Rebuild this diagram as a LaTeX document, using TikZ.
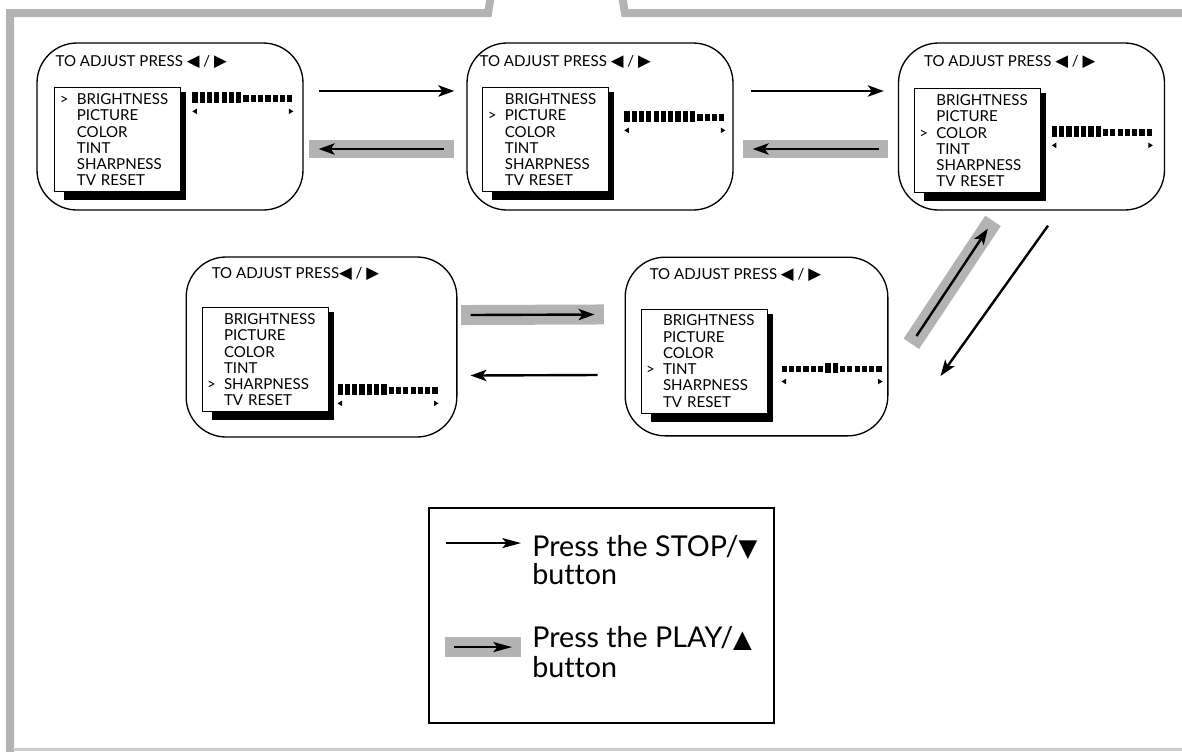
\documentclass[tikz,border=0pt]{standalone}
\usepackage{fontspec}
\setmainfont{Lato}[Ligatures={NoCommon}]
\newfontfamily\symf{DejaVu Sans}
\usetikzlibrary{positioning,arrows.meta,calc,backgrounds}
\definecolor{bandgray}{HTML}{B3B3B3}
\definecolor{rulegray}{HTML}{CCCCCC}
% arrow keys and menu pointer
\newcommand{\lr}{{\symf\scalebox{1.1}{◀}}\ /\ {\symf\scalebox{1.1}{▶}}}
\newcommand{\mk}[2]{\ifnum#1=#2 \makebox[12.75pt][l]{>}\else\makebox[12.75pt][l]{}\fi}
\newcommand{\menurows}[1]{\mk{#1}{1}BRIGHTNESS\\ \mk{#1}{2}PICTURE\\ \mk{#1}{3}COLOR\\ \mk{#1}{4}TINT\\ \mk{#1}{5}SHARPNESS\\ \mk{#1}{6}TV RESET}
% level bar: #1 top left coordinate, #2 list of 1 (tall) / 0 (short)
\newcommand{\lvl}[2]{%
  \foreach \h [count=\i from 0] in {#2}
    \fill ($(#1)+({\i*7.3},{3-3*\h})$) rectangle ++(5.2,{6.5+3.8*\h});
  \fill ($(#1)+(0,19)$) -- ++(4.5,-2.8) -- ++(0,5.6) -- cycle;
  \fill ($(#1)+(101,19)$) -- ++(-4.5,-2.8) -- ++(0,5.6) -- cycle;}

\begin{document}
\begin{tikzpicture}[x=0.75pt,y=-0.75pt,font=\fontsize{11.3}{12.2}\selectfont,
  scr/.style={draw=black,line width=1pt,rounded corners=30pt,inner sep=0pt},
  menu/.style={draw=black,line width=0.8pt,fill=white,anchor=north west,align=left,
    text width=87pt,minimum height=78pt,inner xsep=3.75pt,inner ysep=3pt},
  ttl/.style={anchor=west,inner sep=0pt},
  ar/.style={-{Stealth[length=12pt,width=8.5pt,inset=3pt]},line width=1.8pt},
  band/.style={ar,preaction={draw=bandgray,-,line width=#1,shorten <=-7pt,shorten >=-7pt}},
  band/.default=14pt]
  \useasboundingbox (0,0) rectangle (1182,751);
  % frame
  \draw[bandgray,line width=6pt] (10,760) -- (10,13) -- (488,13) -- (492,-10);
  \draw[bandgray,line width=6pt] (621,-10) -- (625,13) -- (1190,13);
  \draw[rulegray,line width=1.6pt] (13,749.5) -- (1190,749.5);

  % screens
  \node[scr,minimum width=199.5pt,minimum height=125.25pt] (s1) at (170,126.5) {};
  \node[scr,minimum width=199.5pt,minimum height=125.25pt] (s2) at (600,126.5) {};
  \node[scr,minimum width=199.5pt,minimum height=125.25pt] (s3) at (1031.5,126.5) {};
  \node[scr,minimum width=203pt,minimum height=135pt] (s4) at (321.5,347) {};
  \node[scr,minimum width=197pt,minimum height=134pt] (s5) at (756.5,346.5) {};

  \node[ttl] (t1) at ($(s1.north west)+(19,20)$) {TO ADJUST PRESS \lr};
  \node[ttl] (t2) at ($(s2.north west)+(13,20)$) {TO ADJUST PRESS \lr};
  \node[ttl] (t3) at ($(s3.north west)+(26,20)$) {TO ADJUST PRESS \lr};
  \node[ttl] (t4) at ($(s4.north west)+(26,18)$) {TO ADJUST PRESS\lr};
  \node[ttl] (t5) at ($(s5.north west)+(25,18)$) {TO ADJUST PRESS \lr};

  \node[menu] (m1) at ($(s1.north west)+(18,45)$) {\menurows{1}};
  \node[menu] (m2) at ($(s2.north west)+(16,45)$) {\menurows{2}};
  \node[menu] (m3) at ($(s3.north west)+(16,46)$) {\menurows{3}};
  \node[menu] (m4) at ($(s4.north west)+(16,51)$) {\menurows{5}};
  \node[menu] (m5) at ($(s5.north west)+(16,52)$) {\menurows{4}};
  \begin{scope}[on background layer]
    \foreach \m in {m1,m2,m3,m4,m5}
      \fill ($(\m.north west)+(10,5)$) rectangle ($(\m.south east)+(5,8)$);
  \end{scope}

  \coordinate (b1) at ($(s1.north west)+(156,50)$);
  \coordinate (b2) at ($(s2.north west)+(158,69)$);
  \coordinate (b3) at ($(s3.north west)+(154,84)$);
  \coordinate (b4) at ($(s4.north west)+(152,128)$);
  \coordinate (b5) at ($(s5.north west)+(157,106)$);
  \lvl{b1}{1,1,1,1,1,1,1,0,0,0,0,0,0,0}
  \lvl{b2}{1,1,1,1,1,1,1,1,1,1,0,0,0,0}
  \lvl{b3}{1,1,1,1,1,1,1,0,0,0,0,0,0,0}
  \lvl{b4}{1,1,1,1,1,1,1,0,0,0,0,0,0,0}
  \lvl{b5}{0,0,0,0,0,0,1,1,0,0,0,0,0,0}

  % STOP arrows (plain) and PLAY arrows (on grey band)
  \draw[ar] ($(s1.east)+(15,-35.5)$) -- ($(s2.west)+(-12,-35.5)$);
  \draw[band] ($(s2.west)+(-22,22.5)$) -- ($(s1.east)+(15,22.5)$);
  \draw[ar] ($(s2.east)+(17,-35.5)$) -- ($(s3.west)+(-14,-35.5)$);
  \draw[band] ($(s3.west)+(-19,22.5)$) -- ($(s2.east)+(19,22.5)$);
  \draw[ar] ($(s3.south)+(16.5,15)$) -- ($(s5.east)+(52,29.5)$);
  \draw[band] ($(s5.east)+(28,-10.5)$) -- ($(s3.south west)+(90,18)$);
  \draw[band=15pt] ($(s4.east)+(13,-32)$) -- ($(s5.west)+(-30,-32)$);
  \draw[ar] ($(s5.west)+(-27,28.5)$) -- ($(s4.east)+(13,28.5)$);

  % legend
  \node[draw=black,line width=1.4pt,minimum width=258.75pt,minimum height=161.25pt] (lg) at (601.5,615.5) {};
  \node[anchor=west,align=left,inner sep=0pt,font=\fontsize{21.5}{21.5}\selectfont] (st) at ($(lg.north west)+(104,53)$) {Press the STOP/{\symf\scalebox{0.85}{▼}}\\button};
  \node[anchor=west,align=left,inner sep=0pt,font=\fontsize{21.5}{22.5}\selectfont] (pt) at ($(lg.north west)+(104,145)$) {Press the PLAY/{\symf\scalebox{0.85}{▲}}\\button};
  \draw[ar,-{Stealth[length=14pt,width=7.5pt,inset=3pt]}] ($(lg.north west)+(18,36)$) -- ($(st.west)+(-11,-17)$);
  \draw[band=15.5pt,-{Stealth[length=14pt,width=7.5pt,inset=3pt]}] ($(lg.north west)+(26,140)$) -- ($(pt.west)+(-20,-5)$);
\end{tikzpicture}
\end{document}
